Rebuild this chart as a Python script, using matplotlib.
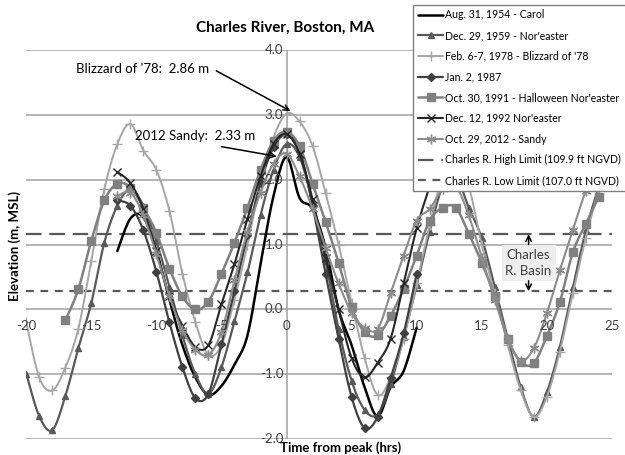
import numpy as np
import matplotlib.pyplot as plt

plt.rcParams['font.family'] = ['Lato', 'DejaVu Sans']

# hourly water levels (m, MSL) relative to time of peak
carol_hrs = list(range(-13, 11))
carol = [0.90, 1.40, 1.42, 0.90, 0.15, -0.55, -1.05, -1.32, -1.18, -0.85, -0.40, 0.70,
         1.75, 2.35, 1.72, 1.55, 0.95, 0.00, -0.55, -1.20, -1.65, -1.20, -0.95, -0.28]

ne1959_hrs = list(range(-20, 25))
ne1959 = [-0.99, -1.65, -1.86, -1.34, -0.60, 0.10, 1.03, 1.60, 1.85, 1.60, 1.05, 0.35,
          -0.40, -1.00, -1.30, -0.89, -0.18, 0.57, 1.45, 2.15, 2.55, 2.35, 1.65, 0.75,
          -0.30, -1.10, -1.55, -1.62, -1.15, -0.43, 0.37, 1.20, 1.90, 2.05, 1.57, 1.10,
          0.35, -0.45, -1.20, -1.66, -1.28, -0.58, 0.34, 1.22, 1.90]

bliz_hrs = list(range(-20, 26))
bliz = [-0.20, -1.05, -1.25, -0.90, -0.30, 0.75, 1.85, 2.55, 2.86, 2.45, 2.15, 1.52,
        0.55, -0.20, -0.70, -0.55, 0.15, 1.00, 1.95, 2.65, 3.02, 2.90, 2.52, 1.80,
        1.00, 0.10, -0.75, -1.32, -1.05, -0.45, 0.40, 1.30, 2.05, 2.30, 1.90, 1.00,
        0.25, -0.55, -1.25, -1.66, -1.35, -0.65, 0.25, 1.10, 1.85, 2.30]

jan1987_hrs = list(range(-13, 11))
jan1987 = [1.68, 1.60, 1.22, 0.58, -0.20, -0.89, -1.37, -1.30, -0.54, 0.28, 1.15, 1.95,
           2.50, 2.70, 2.45, 1.60, 0.55, -0.45, -1.35, -1.83, -1.66, -1.06, -0.37, 0.55]

hallo_hrs = list(range(-17, 25))
hallo = [-0.17, 0.31, 1.06, 1.68, 1.94, 1.88, 1.57, 1.18, 0.63, 0.20, 0.00, 0.12,
         0.55, 1.03, 1.57, 2.15, 2.60, 2.74, 2.52, 1.94, 1.35, 0.72, 0.03, -0.35,
         -0.40, -0.10, 0.32, 0.83, 1.37, 1.57, 1.57, 1.17, 0.72, 0.20, -0.45, -0.81,
         -0.83, -0.41, 0.11, 0.88, 1.32, 1.74]

ne1992_hrs = list(range(-13, 12))
ne1992 = [2.12, 1.95, 1.55, 0.90, 0.20, -0.25, -0.58, -0.55, 0.08, 0.70, 1.40, 2.05,
          2.55, 2.70, 2.40, 1.70, 0.80, 0.00, -0.75, -1.05, -0.82, -0.45, 0.40, 1.25, 1.90]

sandy_hrs = list(range(-13, 25))
sandy = [1.75, 1.80, 1.45, 0.85, 0.20, -0.32, -0.62, -0.70, -0.35, 0.45, 1.20, 1.80,
         2.25, 2.40, 2.05, 1.55, 0.95, 0.40, -0.05, -0.28, -0.30, 0.25, 0.83, 1.37,
         1.55, 1.85, 1.90, 1.45, 0.80, 0.15, -0.45, -0.79, -0.60, -0.06, 0.60, 1.22,
         1.83, 2.25]

high_limit = 1.16
low_limit = 0.28


def smooth(x, y, n=12):
    # Catmull-Rom curve through the hourly points, returns curve and marker indices
    p = np.column_stack([x, y]).astype(float)
    ext = np.vstack([p[0], p, p[-1]])
    s = np.linspace(0, 1, n, endpoint=False)[:, None]
    segs = []
    for i in range(len(p) - 1):
        p0, p1, p2, p3 = ext[i], ext[i + 1], ext[i + 2], ext[i + 3]
        segs.append(0.5 * (2 * p1 + (-p0 + p2) * s
                           + (2 * p0 - 5 * p1 + 4 * p2 - p3) * s ** 2
                           + (-p0 + 3 * p1 - 3 * p2 + p3) * s ** 3))
    segs.append(p[-1:])
    c = np.vstack(segs)
    return c[:, 0], c[:, 1], list(range(0, len(c), n))


fig = plt.figure(figsize=(6.25, 4.55), dpi=100)
ax = fig.add_axes([0.042, 0.035, 0.937, 0.855])
ax.set_xlim(-20, 25)
ax.set_ylim(-2, 4)

for yv in np.arange(-2, 4.01, 1.0):
    ax.axhline(yv, color='#a0a0a0', lw=1.1, zorder=1)
ax.axvline(0, color='#a0a0a0', lw=1.1, zorder=1)

asterisk = (6, 2, 0)
series = [
    (carol_hrs, carol, 'Aug. 31, 1954 - Carol', '#000000', None, 1.8, 5),
    (ne1959_hrs, ne1959, 'Dec. 29, 1959 - Nor\'easter', '#595959', '^', 1.6, 5),
    (bliz_hrs, bliz, 'Feb. 6-7, 1978 - Blizzard of \'78', '#a6a6a6', '+', 1.4, 7),
    (jan1987_hrs, jan1987, 'Jan. 2, 1987', '#404040', 'D', 1.6, 4),
    (hallo_hrs, hallo, 'Oct. 30, 1991 - Halloween Nor\'easter', '#808080', 's', 1.8, 6),
    (ne1992_hrs, ne1992, 'Dec. 12, 1992 Nor\'easter', '#262626', 'x', 1.5, 6),
    (sandy_hrs, sandy, 'Oct. 29, 2012 - Sandy', '#8c8c8c', asterisk, 1.5, 7),
]
handles = []
for x, y, lab, col, mk, lw, ms in series:
    cx, cy, idx = smooth(x, y)
    h, = ax.plot(cx, cy, color=col, lw=lw, marker=mk, markevery=idx, ms=ms,
                 mew=1.0, label=lab, zorder=3, solid_capstyle='round')
    handles.append(h)

hh = ax.axhline(high_limit, color='#595959', lw=1.6, dashes=(7, 3.5), zorder=2,
                label='Charles R. High Limit (109.9 ft NGVD)')
hl = ax.axhline(low_limit, color='#595959', lw=1.6, dashes=(3.5, 3), zorder=2,
                label='Charles R. Low Limit (107.0 ft NGVD)')
handles += [hh, hl]

# axis labels drawn through the middle, Excel style
for v in [-2, -1, 0, 1, 2, 3, 4]:
    ax.text(-0.25, v, f'{v:.1f}', ha='right', va='center', fontsize=9.5,
            color='#404040', zorder=5)
for t in [-20, -15, -10, -5, 0, 5, 10, 15, 20, 25]:
    ax.text(t, -0.26, f'{t}', ha='center', va='center', fontsize=9.5,
            color='#404040', zorder=5)
ax.set_xticks([])
ax.set_yticks([])
for sp in ax.spines.values():
    sp.set_visible(False)

fig.text(0.456, 0.94, 'Charles River, Boston, MA', ha='center', va='center',
         fontsize=11, fontweight='bold')
fig.text(0.545, 0.017, 'Time from peak (hrs)', ha='center', va='center',
         fontsize=9.5, fontweight='bold')
fig.text(0.024, 0.46, 'Elevation (m, MSL)', ha='center', va='center',
         fontsize=9.5, fontweight='bold', rotation=90)

arrow = dict(arrowstyle='->', color='black', lw=1.1, shrinkA=0, shrinkB=0)
ax.text(-11.1, 3.71, "Blizzard of '78:  2.86 m", fontsize=9.5, ha='center',
        va='center', zorder=6)
ax.annotate('', xy=(0.3, 3.06), xytext=(-5.4, 3.68), arrowprops=arrow, zorder=6)
ax.text(-7.0, 2.68, '2012 Sandy:  2.33 m', fontsize=9.5, ha='center',
        va='center', zorder=6)
ax.annotate('', xy=(-0.75, 2.36), xytext=(-5.0, 2.51), arrowprops=arrow, zorder=6)

ax.text(18.6, 0.72, 'Charles\nR. Basin', ha='center', va='center', fontsize=9.5,
        color='#404040', linespacing=1.4, zorder=6,
        bbox=dict(boxstyle='square,pad=0.3', fc='#eeeeee', ec='none'))
ax.annotate('', xy=(18.6, high_limit), xytext=(18.6, 1.0), arrowprops=arrow,
            zorder=6)
ax.annotate('', xy=(18.6, low_limit), xytext=(18.6, 0.44), arrowprops=arrow,
            zorder=6)

leg = fig.legend(handles=handles, loc='upper left', bbox_to_anchor=(0.661, 0.99),
                 fontsize=7.6, frameon=True, fancybox=False, edgecolor='#808080',
                 framealpha=1, handlelength=2.4, handletextpad=0.2,
                 labelspacing=0.92, borderpad=0.45, borderaxespad=0)
leg.get_frame().set_linewidth(1.0)
leg.set_zorder(10)

fig.savefig('out.png', dpi=100)
